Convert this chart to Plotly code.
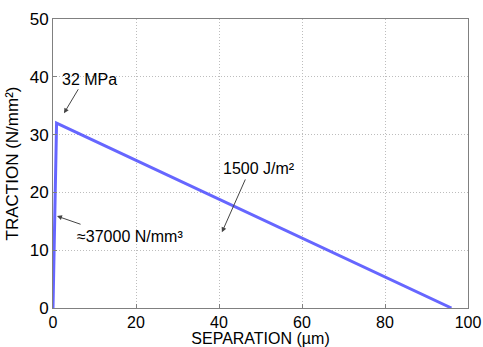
import plotly.graph_objects as go

separation = [0.0, 0.86, 96.0]   # µm
traction = [0.0, 32.0, 0.0]      # N/mm²

x_ticks = [0, 20, 40, 60, 80, 100]
y_ticks = [0, 10, 20, 30, 40, 50]

FONT = "Arial, Liberation Sans, sans-serif"

fig = go.Figure()
fig.add_trace(go.Scatter(x=separation, y=traction, mode="lines",
                         line=dict(color="rgba(75,75,255,0.85)", width=3),
                         showlegend=False))

def arrow(hx, hy, tx, ty):
    fig.add_annotation(x=hx, y=hy, ax=tx, ay=ty, xref="x", yref="y",
                       axref="x", ayref="y", text="", showarrow=True,
                       arrowhead=2, arrowsize=1, arrowwidth=1,
                       arrowcolor="#444444")

def label(x, y, t):
    fig.add_annotation(x=x, y=y, xref="x", yref="y", text=t, showarrow=False,
                       font=dict(family=FONT, size=16, color="black"))

arrow(2.65, 33.7, 6.3, 38.1)
label(8.9, 39.6, "32 MPa")
arrow(40.7, 13.1, 46.5, 22.5)
label(49.6, 24.2, "1500 J/m²")
arrow(0.96, 15.9, 7.0, 14.4)
label(18.5, 12.3, "≈37000 N/mm³")

axis_common = dict(showgrid=True, gridcolor="#bdbdbd", griddash="1px,2px", gridwidth=1,
                   zeroline=False, showline=True, linecolor="#808080", linewidth=1,
                   mirror=True, ticks="inside", ticklen=4, tickcolor="#808080",
                   automargin=False,
                   tickfont=dict(family=FONT, size=17, color="black"))

fig.update_xaxes(range=[0, 100], tickvals=x_ticks,
                 title=dict(text="SEPARATION (µm)", font=dict(family=FONT, size=16, color="black"), standoff=0),
                 **axis_common)
fig.update_xaxes(tickfont=dict(family=FONT, size=16, color="black"))
fig.update_yaxes(range=[0, 50], tickvals=y_ticks,
                 title=dict(text="TRACTION (N/mm²)", font=dict(family=FONT, size=17, color="black"), standoff=6),
                 **axis_common)

fig.update_layout(width=483, height=347, margin=dict(l=53, r=15, t=19, b=39),
                  paper_bgcolor="white", plot_bgcolor="white",
                  font=dict(family=FONT))

fig.write_html("out.html", config={"displayModeBar": False},
               post_script="document.body.style.margin='0';document.body.style.overflow='hidden';")
